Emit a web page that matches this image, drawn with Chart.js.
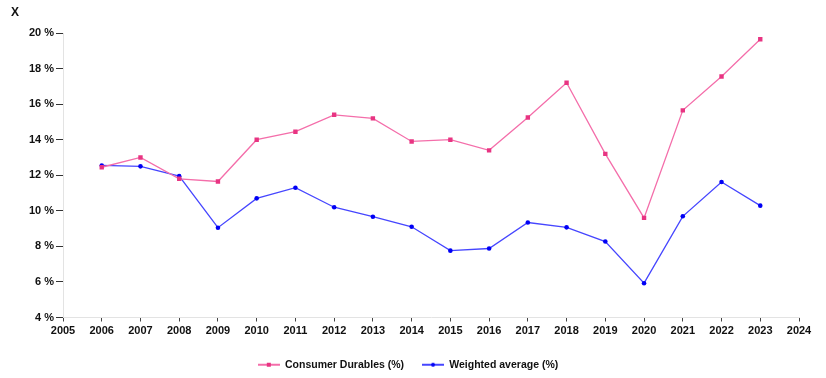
<!DOCTYPE html>
<html><head><meta charset="utf-8">
<script src="https://cdn.jsdelivr.net/npm/chart.js@4.4.1/dist/chart.umd.min.js"></script>
<style>html,body{margin:0;padding:0;background:#fff}#wrap{width:826px;height:378px}</style>
</head><body><div id="wrap"><canvas id="c" width="826" height="378"></canvas></div>
<script>
const years = [2006,2007,2008,2009,2010,2011,2012,2013,2014,2015,2016,2017,2018,2019,2020,2021,2022,2023];
const consumerDurables = [12.45,13.0,11.8,11.65,14.0,14.45,15.4,15.2,13.9,14.0,13.4,15.25,17.2,13.2,9.6,15.65,17.55,19.65];
const weightedAverage = [12.55,12.5,11.95,9.05,10.7,11.3,10.2,9.67,9.1,7.76,7.88,9.34,9.07,8.27,5.93,9.69,11.62,10.29];
const seriesNames = ['Consumer Durables (%)','Weighted average (%)'];
const yTicks = [4,6,8,10,12,14,16,18,20];
const axisTitle = 'X';

const pinkLine = 'rgb(244,110,170)', pinkPt = 'rgb(232,52,130)';
const blueLine = 'rgb(70,70,255)', bluePt = 'rgb(0,0,245)';

function legendIcon(lineColor, ptColor, square){
  const cv = document.createElement('canvas'); cv.width = 22; cv.height = 8;
  const g = cv.getContext('2d');
  g.strokeStyle = lineColor; g.lineWidth = 2;
  g.beginPath(); g.moveTo(0,4); g.lineTo(22,4); g.stroke();
  g.fillStyle = ptColor;
  if (square) g.fillRect(9,2,4,4); else { g.beginPath(); g.arc(11,4,2,0,Math.PI*2); g.fill(); }
  return cv;
}

const titlePlugin = {
  id:'xtitle',
  afterDraw(chart){
    const ctx = chart.ctx; ctx.save();
    ctx.font = 'bold 12px "Liberation Sans", Arial, sans-serif';
    ctx.fillStyle = '#111'; ctx.textBaseline = 'middle';
    ctx.fillText(axisTitle, 11, 13);
    ctx.restore();
  }
};

const font = {family:'"Liberation Sans", Arial, sans-serif', size:11, weight:'bold'};

new Chart(document.getElementById('c'), {
  type:'line',
  data:{
    datasets:[
      {label:seriesNames[0], data:years.map((y,i)=>({x:y,y:consumerDurables[i]})),
       borderColor:pinkLine, backgroundColor:pinkPt, borderWidth:1.3,
       pointStyle:'rect', pointRadius:3.1, pointBackgroundColor:pinkPt, pointBorderWidth:0, tension:0},
      {label:seriesNames[1], data:years.map((y,i)=>({x:y,y:weightedAverage[i]})),
       borderColor:blueLine, backgroundColor:bluePt, borderWidth:1.3,
       pointStyle:'circle', pointRadius:2.3, pointBackgroundColor:bluePt, pointBorderWidth:0, tension:0}
    ]
  },
  options:{
    responsive:false, animation:false,
    layout:{padding:{top:33, right:10, left:0, bottom:-2}},
    plugins:{
      legend:{position:'bottom',
        labels:{usePointStyle:true, pointStyleWidth:22, font:{family:font.family,size:10.5,weight:'bold'}, color:'#111', padding:18,
          generateLabels(chart){
            return [
              {text:seriesNames[0], pointStyle:legendIcon(pinkLine,pinkPt,true), fillStyle:pinkPt, strokeStyle:pinkLine, lineWidth:0, datasetIndex:0, fontColor:'#111'},
              {text:seriesNames[1], pointStyle:legendIcon(blueLine,bluePt,false), fillStyle:bluePt, strokeStyle:blueLine, lineWidth:0, datasetIndex:1, fontColor:'#111'}
            ];
          }}},
      tooltip:{enabled:false}
    },
    scales:{
      x:{type:'linear', min:2005, max:2024,
        afterBuildTicks(s){ s.ticks = []; for(let v=2005; v<=2024; v++) s.ticks.push({value:v}); },
        ticks:{font, color:'#111', padding:3, maxRotation:0, autoSkip:false, callback:v=>String(v)},
        grid:{drawOnChartArea:false, drawTicks:true, tickLength:4, color:'#444'},
        border:{color:'#e3e3e3'},
        afterFit(s){ s.height = 24; }
      },
      y:{min:4, max:20,
        afterBuildTicks(s){ s.ticks = yTicks.map(v=>({value:v})); },
        ticks:{font, color:'#111', padding:2, callback:v=>v+' %'},
        grid:{drawOnChartArea:false, drawTicks:true, tickLength:7, color:'#333'},
        border:{color:'#e3e3e3'},
        afterFit(s){ s.width = 63; }
      },
      yRightSpace:{position:'right', min:0, max:1,
        ticks:{display:false}, grid:{display:false}, border:{display:false},
        afterFit(s){ s.width = 17; }
      }
    }
  },
  plugins:[titlePlugin]
});
</script>
</body></html>
